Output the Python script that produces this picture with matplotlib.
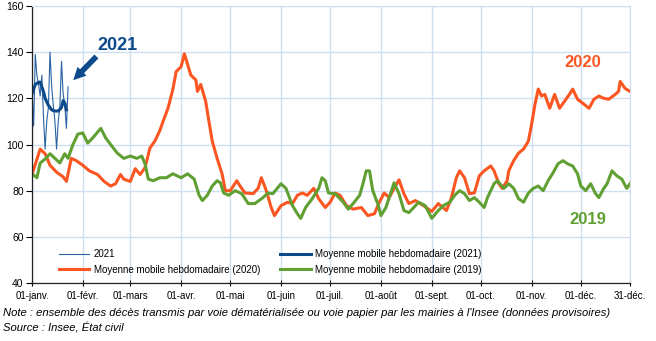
import numpy as np
import matplotlib
matplotlib.use('Agg')
import matplotlib.pyplot as plt

plt.rcParams['font.family'] = ['Liberation Sans', 'DejaVu Sans']

# jour de l'annee (0 = 01-janv.) / deces moyens
d20 = [0, 5, 8, 11, 15, 19, 21, 24, 27, 31, 35, 40, 44, 48, 51, 54, 56, 60, 63, 66,
       69, 72, 75, 78, 80, 83, 86, 88, 91, 93, 95, 97, 100, 101, 103, 106, 108, 110, 113, 116,
       118, 121, 125, 127, 130, 135, 138, 140, 143, 146, 148, 152, 156, 159, 162, 165, 168, 172, 175, 179,
       182, 185, 188, 192, 196, 201, 205, 209, 212, 215, 218, 221, 224, 227, 230, 234, 239, 244, 248, 253,
       256, 259, 261, 264, 267, 270, 273, 276, 280, 282, 285, 287, 290, 291, 294, 297, 300, 303, 305, 307,
       309, 311, 313, 316, 319, 322, 325, 328, 330, 333, 337, 340, 343, 346, 349, 352, 356, 358, 359, 362, 365]
v20 = [87, 98, 96, 91, 88, 86, 84, 94, 93, 91, 88.6, 87, 84, 82, 83, 87, 85, 84, 89.5, 87,
       90, 98.5, 101.5, 106, 110, 115.7, 124, 131.6, 133.7, 139.3, 134.6, 130, 128, 123, 126, 118.7, 110, 101.5, 94, 87.3,
       80, 80, 84.3, 82, 79, 78.7, 81, 85.6, 80, 72.7, 69.2, 73.5, 75, 74.4, 78, 79, 78, 81, 76.5, 72.7,
       75, 79, 78, 73.5, 72, 72.7, 69.2, 70, 75, 79, 77, 81, 84.7, 78.7, 74.4, 75.7, 73.5, 71, 74.4, 71.4,
       77, 85.6, 88.6, 85.6, 78.7, 79, 86.4, 88.6, 90.7, 88.6, 83, 81, 84.3, 88.6, 93, 96.3, 98, 101.5, 109, 117.4,
       124, 121, 121.7, 115.7, 121.7, 115.7, 118.7, 121.7, 124, 119.6, 117.4, 115.7, 119.6, 121, 120, 119.6, 121.7, 123, 127.3, 124.3, 123]

d19 = [0, 3, 5, 8, 11, 14, 17, 20, 22, 25, 28, 31, 34, 37, 42, 45, 48, 52, 56, 60,
       64, 67, 69, 71, 74, 78, 82, 86, 91, 95, 99, 102, 104, 107, 110, 113, 115, 117, 120, 124,
       128, 132, 136, 141, 144, 147, 152, 155, 159, 162, 164, 167, 171, 175, 177, 179, 181, 185, 190, 193,
       196, 200, 202, 204, 206, 208, 211, 213, 216, 219, 221, 224, 227, 230, 233, 236, 240, 244, 248, 251,
       255, 258, 261, 264, 267, 270, 273, 276, 278, 282, 284, 288, 291, 294, 297, 300, 303, 306, 309, 312,
       315, 318, 321, 324, 327, 330, 333, 335, 338, 341, 344, 346, 349, 351, 354, 357, 360, 363, 365]
v19 = [87.3, 85.6, 92, 93.7, 96, 94, 92, 96, 94, 100, 104.5, 105, 100.6, 102.8, 107, 102.8, 100, 96.3, 94, 95,
       94, 95, 91.6, 85, 84.3, 85.6, 85.6, 87.3, 85.6, 87.3, 85, 78, 75.7, 78, 82, 84.3, 83.4, 79, 78, 80,
       78.7, 74.4, 74.4, 77, 79, 78.7, 83, 81, 73.5, 70, 68, 72.7, 76.5, 81, 85.6, 84.3, 79, 78.7, 75, 72,
       74.4, 78, 83, 88.6, 88.6, 80, 74.4, 69.2, 72.7, 79, 83.4, 78.7, 71.4, 70.5, 72.7, 75, 73.5, 68, 71.4, 73.5,
       75, 78, 80, 78.7, 75.7, 77, 75, 72.7, 77, 83, 84.3, 81, 83, 81, 76.5, 75, 79, 81, 82, 80,
       84.3, 87.7, 91.6, 93, 91.6, 90.7, 87.3, 82, 80, 83, 78.7, 77, 81, 83, 88.6, 86.4, 85, 81, 83]

# 2021 : deces quotidiens et moyenne mobile
d21 = list(range(23))
v21 = [124, 108, 139, 130, 126, 121, 130, 112, 98, 110, 116, 140, 125, 117, 110, 98,
       110, 116, 136, 122, 117, 107, 125]
d21_mm = [0, 2, 4, 5, 7, 8, 10, 12, 14, 16, 18, 19, 20, 21]
v21_mm = [122, 126, 127, 127, 123, 120, 117, 115, 114.5, 114.5, 116, 119, 118, 115]

month_pos = [0, 31, 60, 91, 121, 152, 182, 213, 244, 274, 305, 335, 365]
month_lab = ['01-janv.', '01-févr.', '01-mars', '01-avr.', '01-mai', '01-juin', '01-juil.',
             '01-août', '01-sept.', '01-oct.', '01-nov.', '01-déc.', '31-déc.']

c20 = '#fb5621'
c19 = '#60a033'
cblue = '#0d4a8c'
cthin = '#2a62a4'
grid_c = '#cfdff0'

fig = plt.figure(figsize=(6.56, 3.41), dpi=100)
ax = fig.add_axes([32/656, 1 - 283/341, 598/656, 277/341])

l1, = ax.plot(d21, v21, color=cthin, lw=0.8, label='2021')
l3, = ax.plot(d20, v20, color=c20, lw=2.2, label='Moyenne mobile hebdomadaire (2020)')
l4, = ax.plot(d19, v19, color=c19, lw=2.2, label='Moyenne mobile hebdomadaire (2019)')
l2, = ax.plot(d21_mm, v21_mm, color=cblue, lw=2.2, label='Moyenne mobile hebdomadaire (2021)')

ax.set_xlim(0, 365)
ax.set_ylim(40, 160)
ax.set_xticks(month_pos)
ax.set_xticklabels(month_lab)
ax.set_yticks(np.arange(40, 161, 20))
ax.grid(True, color=grid_c, lw=1)
ax.set_axisbelow(True)
for s in ['top', 'right']:
    ax.spines[s].set_color(grid_c)
for s in ['left', 'bottom']:
    ax.spines[s].set_color('#222222')
    ax.spines[s].set_linewidth(0.9)
ax.tick_params(axis='x', direction='inout', length=5, labelsize=7, pad=3)
ax.tick_params(axis='y', direction='out', length=4, labelsize=7.5, pad=2)

ax.legend(handles=[l1, l3, l2, l4], ncol=2, loc='upper left', bbox_to_anchor=(0.038, 0.135),
          frameon=False, fontsize=7, handlelength=3.1, columnspacing=2.1,
          labelspacing=0.55, handletextpad=0.5, borderaxespad=0)

ax.text(52, 143, '2021', color=cblue, fontsize=13, fontweight='bold', ha='center', va='center')
ax.annotate('', xy=(24, 127), xytext=(40.5, 139),
            arrowprops=dict(arrowstyle='simple,head_width=0.9,head_length=0.9,tail_width=0.4',
                            color=cblue, lw=0))
ax.text(336, 135.7, '2020', color=c20, fontsize=12, fontweight='bold', ha='center', va='center')
ax.text(339, 67.7, '2019', color=c19, fontsize=12, fontweight='bold', ha='center', va='center')

fig.text(3/656, 1 - 313/341, "Note : ensemble des décès transmis par voie dématérialisée ou voie papier "
         "par les mairies à l'Insee (données provisoires)", fontsize=8.1, style='italic', va='center')
fig.text(3/656, 1 - 328/341, 'Source : Insee, État civil', fontsize=8.1, style='italic', va='center')

fig.savefig('out.png', dpi=100)
